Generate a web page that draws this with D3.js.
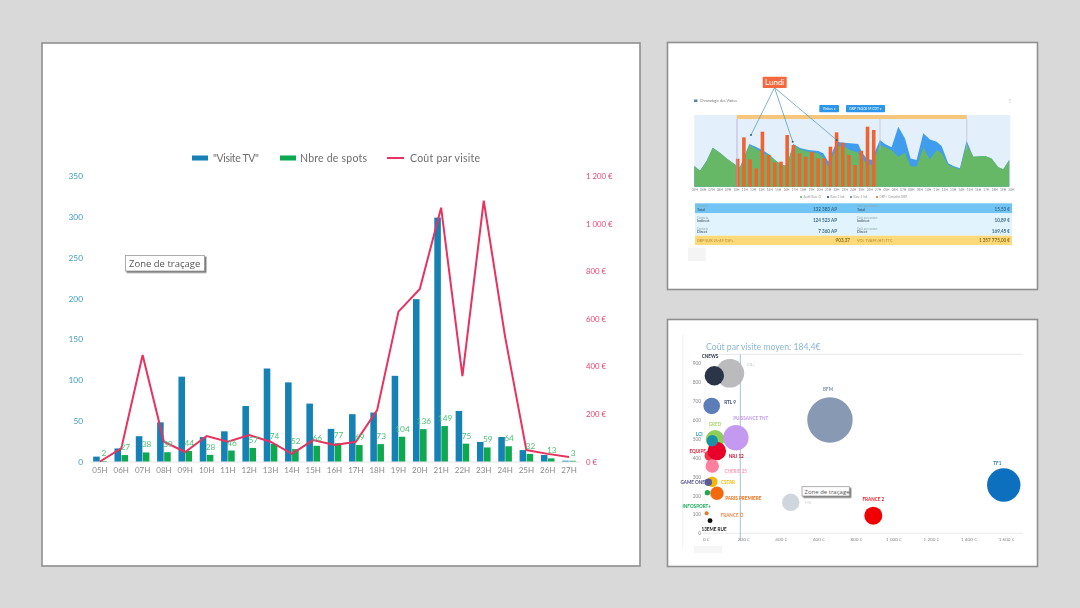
<!DOCTYPE html>
<html><head><meta charset="utf-8">
<style>html,body{margin:0;padding:0;background:#d9d9d9}svg{display:block}text{font-family:Lato,"Open Sans",sans-serif}</style>
<script src="https://cdn.jsdelivr.net/npm/d3@7"></script></head><body>
<script>
// ---------- main chart data ----------
const hours=["05H","06H","07H","08H","09H","10H","11H","12H","13H","14H","15H","16H","17H","18H","19H","20H","21H","22H","23H","24H","25H","26H","27H"];
const visits=[6,16,31,48,104,30,37,68,114,97,71,40,58,60,105,199,299,62,24,30,14,8,1];
const spots=[2,27,38,39,44,28,46,57,74,52,66,77,69,73,104,136,149,75,59,64,32,13,3];
const costPerVisit=[0,55,448,83,40,107,83,111,83,32,90,69,83,216,630,725,1067,359,1096,525,48,32,19];
const leftTicks=[0,50,100,150,200,250,300,350];
const rightTicks=[0,200,400,600,800,1000,1200];
// ---------- top thumbnail data ----------
const areaHour=[0,.68,1.48,2.2,3.08,3.88,4.96,5.48,6.6,7.48,8.36,9.08,9.68,10.36,11.08,11.88,12.68,13.68,14.88,15.48,16.08,17.08,17.88,18.68,19.68,20.08,20.68,21.28,22.28,22.88,23.68,24.48,25.28,25.96,26.68,27.48,28.28,29.08,29.68,30.48,31.08,31.88,32.68,33.48,34.88,35.68,36.48,37.08,37.8];
const areaGreen=[28.8,22.3,36.3,54.4,47.4,39.5,30.2,27,58.1,52.1,46.5,42.8,37.2,31.2,28.8,58.1,52.1,48.8,46.5,40.9,27.9,55.8,56.7,51.2,47.4,39.5,32.6,30.2,58.1,54.9,51.2,41.9,47.4,28.8,27.9,54.4,38.1,51.2,46.5,30.2,27,24.2,59.5,41.9,42.8,39.5,27,24.2,37.2];
const areaBlue=[28.8,22.3,36.3,54.4,47.4,39.5,30.2,27,59.5,54.9,49.8,44.2,37.2,31.2,28.8,59.5,54,51.2,49.8,46.5,34.9,62.8,61.4,60.5,59.5,48.8,39.5,37.2,65.1,59.5,54.9,83.7,67.4,39.5,37.2,74.4,66,62.8,56.7,32.6,28.8,25.6,64.2,41.9,42.8,39.5,27,24.2,37.2];
const orangeBars=[39,68.8,38.1,25.6,76.7,44.2,34,34.9,72.1,58.1,46.5,41.9,48.8,39.5,39.5,55.8,75.8,61.4,44.2,30.2,50.2,83.7,79.1];
const thumbTicks=["05H","06H","07H","08H","09H","10H","11H","12H","13H","14H","15H","16H","17H","18H","19H","20H","21H","22H","23H","24H","25H","26H","27H","05H","06H","07H","08H","09H","10H","11H","12H","13H","14H","15H","16H","17H","18H","19H","20H"];
const thumbLegend=["Audit Base Ci","Base 1 Ind.","Base 2 Ind.","GRP / Consolid. GRP"];
const thumbLegendColors=["#66b766","#2d4a7a","#5a7f9a","#ee6c3f"];
const tableLeftSmall=["Contacts","Contacts","Contacts"];
const tableLeft=["Total","Indirect","Direct","GRP SUR 25-49 CSP+"];
const tableLeftValue=["132 383 AP","124 523 AP","7 360 AP","903,37"];
const tableRight=["Total","Indirect","Direct","VOL TVAFF (HT) TTC"];
const tableRightValue=["15,53 €","10,89 €","169,45 €","1 357 775,00 €"];
const tableColors=["#6fc5f5","#e1f3fd","#e1f3fd","#fdd97a"];
// ---------- bubble chart data ----------
const channels=["C8+","CNEWS","RTL 9","BFM","PUISSANCE TNT","GRED","LCI","NRJ 12","EQUIPE","CHERIE 25","CSTAR","GAME ONE","INFOSPORT+","PARIS PREMIERE","FRANCE Ô","13EME RUE","M6","FRANCE 2","TF1"];
const costs=[129,46,32,662,161,50,35,59,23,35,35,14,9,60,5,23,453,893,1588];
const visitCounts=[847,834,674,600,506,498,490,436,411,356,273,270,215,212,106,67,164,93,256];
const audience=[204,94,69,515,161,86,32,86,30,45,28,14,7,45,4,6,76,81,279];
const channelColors=["#b5b5b8","#2a3547","#5b7db8","#7d90ad","#c49af0","#8fce5a","#1f8ea8","#e8002a","#f0364a","#ff7f9e","#f5b800","#5a5a9a","#1fa85a","#f26a10","#e07a30","#111111","#ccd3da","#f00000","#0a6fbf"];
const drawOrder=[0,1,2,3,5,4,8,7,6,9,10,11,12,13,14,15,16,17,18];
const avgCost=184.4;
const bubbleXTicks=[0,200,400,600,800,1000,1200,1400,1600];
const bubbleYTicks=[0,100,200,300,400,500,600,700,800,900];

const fmtEuro=d=>d3.format(",")(d).replace(/,/g," ")+" €";
const svg=d3.select("body").append("svg").attr("width",1080).attr("height",608);
const defs=svg.append("defs");
[["soft",.35],["softer",.45],["softest",.75]].forEach(([id,s])=>defs.append("filter").attr("id",id).append("feGaussianBlur").attr("stdDeviation",s));
const sh=defs.append("filter").attr("id","shadow").attr("x","-10%").attr("y","-20%").attr("width","125%").attr("height","160%");
sh.append("feDropShadow").attr("dx",1.5).attr("dy",1.5).attr("stdDeviation",.6).attr("flood-color","#777");

svg.append("rect").attr("width",1080).attr("height",608).attr("fill","#d9d9d9");
[[42,43,598,523],[667.5,42.5,370,247],[667.5,319.5,370,247]].forEach(([x,y,w,h])=>
  svg.append("rect").attr("x",x).attr("y",y).attr("width",w).attr("height",h).attr("fill","#fff").attr("stroke","#8f8f8f").attr("stroke-width",1.6));

function tooltip(g,x,y,w,h,fs,tx,ty){
  g.append("rect").attr("x",x).attr("y",y).attr("width",w).attr("height",h).attr("fill","#fff").attr("stroke","#9a9a9a").attr("stroke-width",.8).attr("filter","url(#shadow)");
  g.append("text").attr("x",tx).attr("y",ty).attr("font-size",fs).attr("fill","#555").style("font-family","'Open Sans',sans-serif").text("Zone de traçage");
}

// ========== MAIN CHART ==========
(function(){
  const g=svg.append("g").attr("filter","url(#soft)");
  const x=d3.scaleBand().domain(hours).range([89.3,579.7]);
  const yL=d3.scaleLinear().domain([0,350]).range([461.5,176]);
  const yR=d3.scaleLinear().domain([0,1200]).range([461.5,176]);
  const sub=d3.scaleBand().domain(["v","s"]).range([0,13.6]).paddingInner(.07);
  const off=(x.bandwidth()-13.6)/2;
  const axL=g.append("g").attr("transform","translate(83,0)").call(d3.axisLeft(yL).tickValues(leftTicks).tickSize(0).tickPadding(0));
  const axR=g.append("g").attr("transform","translate(586,0)").call(d3.axisRight(yR).tickValues(rightTicks).tickFormat(fmtEuro).tickSize(0).tickPadding(0));
  const axX=g.append("g").attr("transform","translate(0,461.5)").call(d3.axisBottom(x).tickSize(0).tickPadding(6));
  axL.select(".domain").remove();axR.select(".domain").remove();
  axX.select(".domain").attr("stroke","#e3e3e3");
  axL.selectAll("text").attr("fill","#3f9cc0").attr("font-size",8.3).style("font-family","Lato");
  axR.selectAll("text").attr("fill","#e8476f").attr("font-size",7.8).style("font-family","Lato");
  axX.selectAll("text").attr("fill","#8a8a8a").attr("font-size",8).style("font-family","Lato");
  g.selectAll(".bv").data(hours).join("rect").attr("x",d=>x(d)+off+sub("v")).attr("width",sub.bandwidth())
    .attr("y",(d,i)=>yL(visits[i])).attr("height",(d,i)=>yL(0)-yL(visits[i])).attr("fill","#1481b5");
  g.selectAll(".bs").data(hours).join("rect").attr("x",d=>x(d)+off+sub("s")).attr("width",sub.bandwidth())
    .attr("y",(d,i)=>yR(spots[i])).attr("height",(d,i)=>yR(0)-yR(spots[i])).attr("fill","#0aa84f");
  g.append("path").datum(costPerVisit).attr("fill","none").attr("stroke","#e8315f").attr("stroke-width",2)
    .attr("stroke-linejoin","miter").attr("d",d3.line().x((d,i)=>x(hours[i])+x.bandwidth()/2).y(d=>yR(d)));
  g.selectAll(".ls").data(hours).join("text").attr("x",d=>x(d)+off+sub("s")+sub.bandwidth()/2+.5)
    .attr("y",(d,i)=>yR(spots[i])-5).attr("text-anchor","middle").attr("font-size",8.3).attr("fill","#4cc276").text((d,i)=>spots[i]);
  // legend
  const leg=g.append("g").attr("font-size",10.5).attr("fill","#6e6e6e");
  leg.append("rect").attr("x",192).attr("y",155.5).attr("width",16).attr("height",5).attr("fill","#1481b5");
  leg.append("text").attr("x",213).attr("y",162).attr("textLength",46).text('"Visite TV"');
  leg.append("rect").attr("x",280).attr("y",155.5).attr("width",16).attr("height",5).attr("fill","#0aa84f");
  leg.append("text").attr("x",300).attr("y",162).attr("textLength",67).text("Nbre de spots");
  leg.append("line").attr("x1",387).attr("x2",404).attr("y1",158).attr("y2",158).attr("stroke","#e8315f").attr("stroke-width",2);
  leg.append("text").attr("x",410).attr("y",162).attr("textLength",70).text("Coût par visite");
  tooltip(svg.append("g"),125.5,255.5,79,15.5,9.5,129,267);
})();

// ========== TOP THUMBNAIL ==========
(function(){
  const g=svg.append("g").attr("filter","url(#softer)");
  const gt=svg.append("g").attr("filter","url(#softest)");
  const x=d3.scaleLinear().domain([0,38]).range([694.33,1010.9]);
  const y=d3.scaleLinear().domain([0,100]).range([186.7,115]);
  const ob=d3.scaleBand().domain(hours).range([734.6,876.8]).paddingInner(.42).paddingOuter(.21);
  g.append("rect").attr("x",694.3).attr("y",115).attr("width",316).attr("height",71.7).attr("fill","#e3effa");
  const area=v=>d3.area().x((d,i)=>x(areaHour[i])).y0(y(0)).y1(d=>y(d))(v);
  g.append("path").attr("d",area(areaBlue)).attr("fill","#3f9ded");
  g.append("path").attr("d",area(areaGreen)).attr("fill","#66b766");
  g.selectAll(".o").data(hours).join("rect").attr("x",d=>ob(d)).attr("width",ob.bandwidth())
    .attr("y",(d,i)=>y(orangeBars[i])).attr("height",(d,i)=>y(0)-y(orangeBars[i])).attr("fill","#ee6430");
  g.append("rect").attr("x",736.7).attr("y",115).attr("width",230).attr("height",4).attr("fill","#f6c67c");
  g.append("line").attr("x1",737).attr("x2",737).attr("y1",119).attr("y2",186.7).attr("stroke","#b9a3d9").attr("stroke-width",.8);
  [880,966.7].forEach(v=>g.append("line").attr("x1",v).attr("x2",v).attr("y1",119).attr("y2",150).attr("stroke","#b5b5c5").attr("stroke-width",.6));
  // tick labels
  const ax=gt.append("g").attr("transform","translate(0,186.7)").call(d3.axisBottom(x).tickValues(d3.range(thumbTicks.length)).tickFormat(i=>thumbTicks[i]).tickSize(0).tickPadding(2));
  ax.select(".domain").remove();ax.selectAll("text").attr("font-size",3.2).attr("fill","#888");
  // header
  g.append("rect").attr("x",694).attr("y",99.5).attr("width",3.5).attr("height",2.5).attr("fill","#5b85a8");
  gt.append("text").attr("x",700).attr("y",102).attr("font-size",3.6).attr("fill","#777").text("Chronologie des Visites");
  gt.append("text").attr("x",1008).attr("y",102).attr("font-size",4).attr("fill","#888").text("⋮");
  [[819.3,19.7,"Visites ▾"],[846,39,"GRP 760,00 M CDT ▾"]].forEach(([bx,w,t])=>{
    g.append("rect").attr("x",bx).attr("y",105).attr("width",w).attr("height",7.3).attr("rx",.8).attr("fill","#2f96e8");
    gt.append("text").attr("x",bx+w/2).attr("y",109.8).attr("text-anchor","middle").attr("font-size",3.4).attr("fill","#fff").text(t);
  });
  // legend
  const lx=[801,828,851,877];
  thumbLegend.forEach((t,i)=>{
    g.append("circle").attr("cx",lx[i]).attr("cy",197).attr("r",1.1).attr("fill",thumbLegendColors[i]);
    gt.append("text").attr("x",lx[i]+2.5).attr("y",198).attr("font-size",3).attr("fill","#999").text(t);
  });
  // table
  const rowY=[203.3,213.3,225,235.7],rowH=[10,11.7,10.7,9.3];
  tableColors.forEach((c,i)=>{
    g.append("rect").attr("x",695).attr("y",rowY[i]).attr("width",317).attr("height",rowH[i]).attr("fill",c);
    const dark=i==3?"#b08a2a":"#345";
    const base=rowY[i]+rowH[i]-2.8;
    if(i<3){
      gt.append("text").attr("x",697).attr("y",base-3.2).attr("font-size",2.8).attr("fill","#8aa").text(tableLeftSmall[i]);
      gt.append("text").attr("x",857).attr("y",base-3.2).attr("font-size",2.8).attr("fill","#8aa").text("Coût par contact");
    }
    gt.append("text").attr("x",697).attr("y",base).attr("font-size",3.8).attr("fill",dark).text(tableLeft[i]);
    gt.append("text").attr("x",857).attr("y",base).attr("font-size",3.8).attr("fill",dark).text(tableRight[i]);
    gt.append("text").attr("x",i<3?837:850).attr("y",base).attr("text-anchor","end").attr("font-size",4.6).attr("font-weight",700).attr("fill",i==3?"#8a6a1a":"#3a6a8a").text(tableLeftValue[i]);
    gt.append("text").attr("x",1010).attr("y",base).attr("text-anchor","end").attr("font-size",4.6).attr("font-weight",700).attr("fill",i==3?"#8a6a1a":"#3a6a8a").text(tableRightValue[i]);
  });
  g.append("rect").attr("x",688).attr("y",248).attr("width",17.7).attr("height",13).attr("fill","#f4f4f4");
  // callouts
  const c=[[751,135],[792.7,141.7],[836.7,140]];
  c.forEach(([px,py])=>{
    g.append("line").attr("x1",774.5).attr("y1",87.7).attr("x2",px).attr("y2",py).attr("stroke","#5f9fb8").attr("stroke-width",.8);
    g.append("circle").attr("cx",px).attr("cy",py).attr("r",1).attr("fill","#2d5f8a");
  });
  const t=svg.append("g");
  t.append("rect").attr("x",762.7).attr("y",76.7).attr("width",24).attr("height",11.3).attr("rx",.8).attr("fill","#f4683f");
  t.append("text").attr("x",774.7).attr("y",85).attr("text-anchor","middle").attr("font-size",8).attr("fill","#fff").text("Lundi");
})();

// ========== BUBBLE CHART ==========
(function(){
  const g=svg.append("g").attr("filter","url(#soft)");
  const gt=svg.append("g").attr("filter","url(#softer)");
  const x=d3.scaleLinear().domain([0,1600]).range([705.7,1006]);
  const y=d3.scaleLinear().domain([0,900]).range([533.3,363.3]);
  const r=d3.scaleSqrt().domain([0,515]).range([0,22.7]);
  g.append("line").attr("x1",682.7).attr("x2",682.7).attr("y1",335).attr("y2",550).attr("stroke","#f2f2f2");
  g.append("rect").attr("x",694).attr("y",546).attr("width",28).attr("height",7).attr("fill","#f6f6f6");
  g.append("text").attr("x",706).attr("y",349.5).attr("font-size",8.7).attr("fill","#8db6d2").text("Coût par visite moyen: "+String(avgCost).replace(".",",")+"€");
  g.append("line").attr("x1",706).attr("x2",1023).attr("y1",354.3).attr("y2",354.3).attr("stroke","#dcdcdc").attr("stroke-width",.7);
  g.append("line").attr("x1",705).attr("x2",705).attr("y1",354).attr("y2",534).attr("stroke","#ececec").attr("stroke-width",.7);
  g.append("line").attr("x1",x(0)-3).attr("x2",1023).attr("y1",y(0)).attr("y2",y(0)).attr("stroke","#e3e3e3").attr("stroke-width",.8);
  g.append("line").attr("x1",x(avgCost)).attr("x2",x(avgCost)).attr("y1",354.3).attr("y2",541).attr("stroke","#a9c8d8").attr("stroke-width",1.1);
  const ax=gt.append("g").attr("transform","translate(0,533.3)").call(d3.axisBottom(x).tickValues(bubbleXTicks).tickFormat(fmtEuro).tickSize(0).tickPadding(4));
  const ay=gt.append("g").attr("transform","translate(701,0)").call(d3.axisLeft(y).tickValues(bubbleYTicks).tickSize(0).tickPadding(0));
  ax.select(".domain").remove();ay.select(".domain").remove();
  ax.selectAll("text").attr("font-size",4.6).attr("fill","#888");
  ay.selectAll("text").attr("font-size",4.8).attr("fill","#888");
  drawOrder.forEach(i=>{
    g.append("circle").attr("cx",x(costs[i])).attr("cy",y(visitCounts[i])).attr("r",r(audience[i]))
      .attr("fill",channelColors[i]).attr("fill-opacity",[0,3,16].includes(i)?.92:1);
  });
  // channel labels: [x, y, colour, bold]
  const labelPlace=[[751,365.5,"#c9c9c9",0],[710,357.5,"#2a3547",1],[730,404,"#3a4a7a",1],[828,390.5,"#7d90ad",1],[750.7,420,"#c49af0",1],[715,426,"#a6d46c",1],[699.3,436,"#1f8ea8",1],[736.3,458,"#c8102e",1],[697.7,453,"#e8243c",1],[735.7,472.5,"#ff9ab6",1],[728,484,"#f5b800",1],[692.7,483.5,"#4a4a8a",1],[696.7,507.5,"#18a85a",1],[743.3,499.5,"#f26a10",1],[732,517,"#e8884a",1],[714,531,"#222",1],[808,504,"#d5d5d5",0],[873.3,501.3,"#e8202a",1],[997.3,465.3,"#2f7fb8",1]];
  channels.forEach((c,i)=>{
    const p=labelPlace[i];
    gt.append("text").attr("x",p[0]).attr("y",p[1]).attr("text-anchor","middle").attr("font-size",4.6).attr("font-weight",p[3]?700:400).attr("fill",p[2]).text(c);
  });
  tooltip(svg.append("g"),802,486.7,47.3,9.3,6,804.5,493.6);
})();
</script></body></html>
